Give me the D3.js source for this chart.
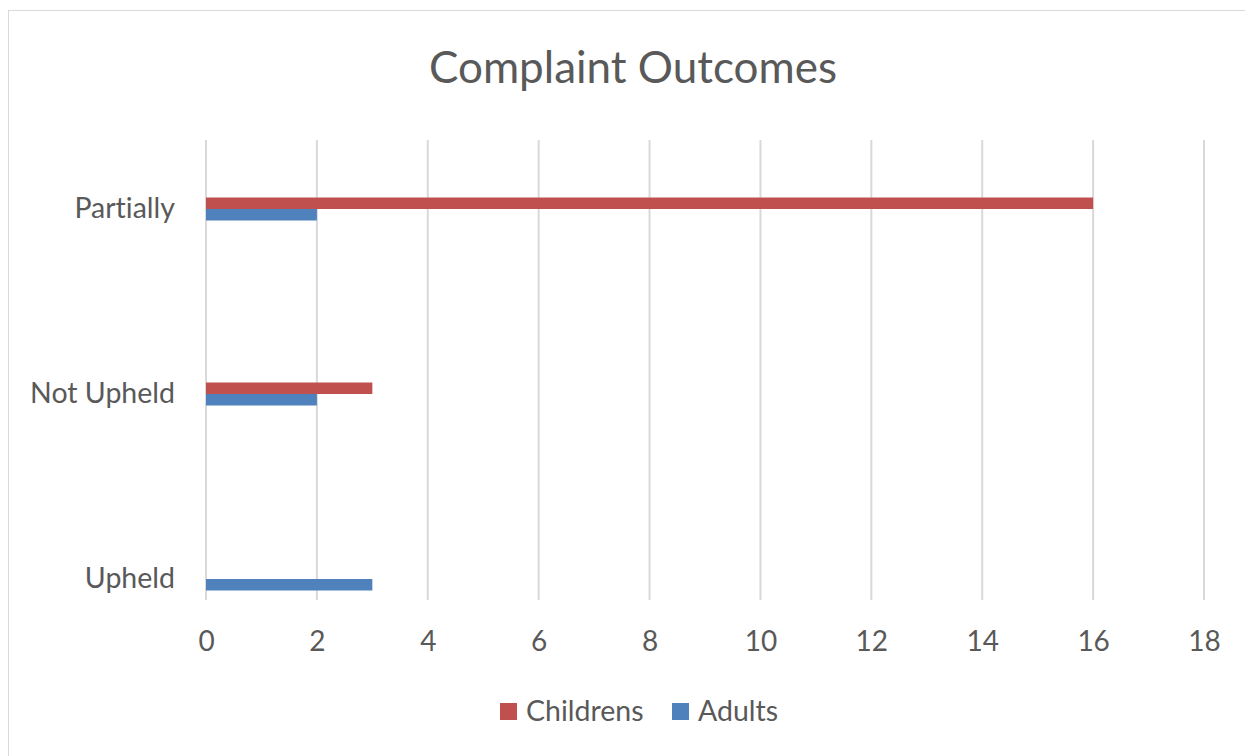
<!DOCTYPE html>
<html>
<head>
<meta charset="utf-8">
<script src="https://cdn.jsdelivr.net/npm/d3@7"></script>
<style>
  body { margin: 0; background: #fff; }
  svg { display: block; }
  text { font-variant-ligatures: none; }
</style>
</head>
<body>
<div id="chart"></div>
<script>
// chart data
const categories = ["Upheld", "Not Upheld", "Partially"];
const seriesNames = ["Childrens", "Adults"];
const childrens = [0, 3, 16];
const adults = [3, 2, 2];
const xTicks = [0, 2, 4, 6, 8, 10, 12, 14, 16, 18];

const colors = { Childrens: "#C0504D", Adults: "#4F81BD" };
const textColor = "#595959";
const font = "Lato, 'Open Sans', sans-serif";

const width = 1245, height = 756;
const plot = { left: 206, right: 1204, top: 140, bottom: 600 };

const svg = d3.select("#chart").append("svg")
  .attr("width", width)
  .attr("height", height)
  .style("font-family", font);

// outer frame
svg.append("rect")
  .attr("x", 8.5).attr("y", 10.5)
  .attr("width", 1300).attr("height", 800)
  .attr("fill", "#fff")
  .attr("stroke", "#d9d9d9");

// title
svg.append("text")
  .attr("x", 633)
  .attr("y", 83)
  .attr("text-anchor", "middle")
  .attr("fill", textColor)
  .style("font-size", "44px")
  .text("Complaint Outcomes");

const x = d3.scaleLinear().domain([0, 18]).range([plot.left, plot.right]);
const y = d3.scalePoint().domain(categories).range([579, 209]);

// gridlines
svg.append("g")
  .selectAll("line")
  .data(xTicks)
  .join("line")
  .attr("x1", d => x(d)).attr("x2", d => x(d))
  .attr("y1", plot.top).attr("y2", plot.bottom)
  .attr("stroke", "#d9d9d9")
  .attr("stroke-width", 2);

// x axis labels
const xAxis = svg.append("g")
  .attr("transform", `translate(0,${plot.bottom})`)
  .call(d3.axisBottom(x).tickValues(xTicks).tickSize(0).tickPadding(0));
xAxis.select(".domain").remove();
xAxis.selectAll("text")
  .attr("y", 51)
  .attr("dy", null)
  .attr("fill", textColor)
  .style("font-size", "28px")
  .style("font-family", font);

// category labels
const yAxis = svg.append("g")
  .attr("transform", `translate(${plot.left},0)`)
  .call(d3.axisLeft(y).tickSize(0).tickPadding(31));
yAxis.select(".domain").remove();
yAxis.selectAll("text")
  .attr("dy", "0.3em")
  .attr("fill", textColor)
  .style("font-size", "28.5px")
  .style("font-family", font);

// bars
const barH = 11.5;
const rows = categories.map((c, i) => ({ cat: c, Childrens: childrens[i], Adults: adults[i] }));
const offsets = { Childrens: -barH, Adults: 0 };

seriesNames.forEach(s => {
  svg.append("g")
    .selectAll("rect")
    .data(rows.filter(d => d[s] > 0))
    .join("rect")
    .attr("x", x(0))
    .attr("y", d => y(d.cat) + offsets[s])
    .attr("width", d => x(d[s]) - x(0))
    .attr("height", barH)
    .attr("fill", colors[s]);
});

// legend
const legendItems = [
  { name: "Childrens", x: 500 },
  { name: "Adults", x: 672 }
];
const legend = svg.append("g")
  .selectAll("g")
  .data(legendItems)
  .join("g")
  .attr("transform", d => `translate(${d.x},703)`);
legend.append("rect")
  .attr("width", 17).attr("height", 17)
  .attr("fill", d => colors[d.name]);
legend.append("text")
  .attr("x", 26)
  .attr("y", 18)
  .attr("fill", textColor)
  .style("font-size", "28.5px")
  .text(d => d.name);
</script>
</body>
</html>
